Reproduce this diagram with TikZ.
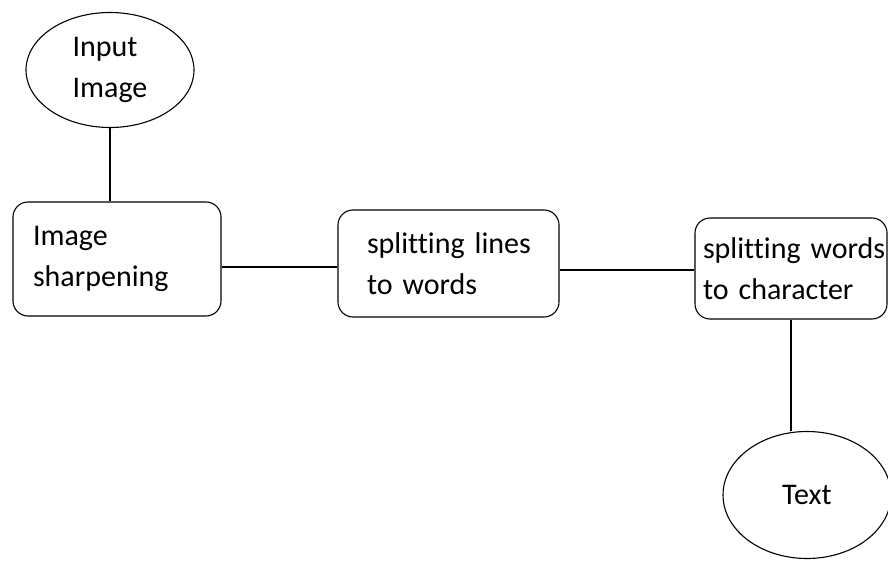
\documentclass[tikz,border=0pt]{standalone}
\usepackage{fontspec}
\setmainfont{Carlito}[Ligatures = NoCommon]
\usepackage{tikz}
\usetikzlibrary{shapes.geometric}
\usetikzlibrary{positioning}
\tikzset{term/.style = {draw, ellipse, line width = 1.1pt, inner sep = 0, align = left,
                        font = \fontsize{30}{41}\selectfont}}
\tikzset{stage/.style = {draw, rectangle, rounded corners = 15, line width = 1.1pt,
                         align = left, font = \fontsize{30}{41}\selectfont}}
\tikzset{link/.style = {line width = 1.1pt}}

\begin{document}
\begin{tikzpicture}[x = 1pt, y = -1pt]
      \useasboundingbox (0, 0) rectangle (888, 561);
      \node [term, minimum width = 168, minimum height = 115] (input) at (110, 70) {Input\\Image};
      \node [stage, minimum width = 208, minimum height = 114, inner xsep = 20, text width = 168] (sharp) at (117, 259) {Image\\sharpening};
      \node [stage, minimum width = 221, minimum height = 107, inner xsep = 29, text width = 163] (lines) at (448.5, 263.5) {splitting~lines\\to~words};
      \node [stage, minimum width = 192, minimum height = 101, inner xsep = 8, text width = 176] (chars) at (791, 268.5) {splitting~words\\to~character};
      \node [term, minimum width = 168, minimum height = 127] (text) at (807, 495) {Text};

      \draw [link] (input.south) -- (input.south |- sharp.north);
      \draw [link] ([yshift=-8pt]sharp.east) -- ([yshift=-8pt]sharp.east -| lines.west);
      \draw [link] ([yshift=-6.5pt]lines.east) -- ([yshift=-6.5pt]lines.east -| chars.west);
      \draw [link] (chars.south) -- (chars.south |- text.north);
    \end{tikzpicture}
\end{document}
